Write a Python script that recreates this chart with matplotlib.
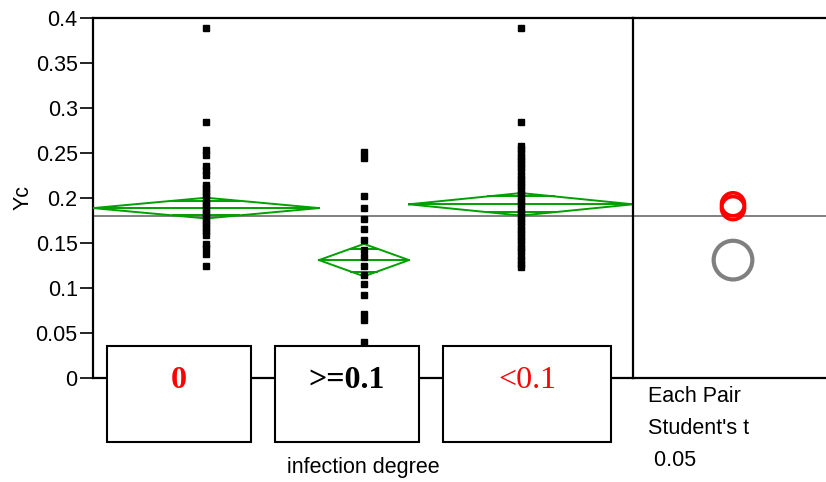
import numpy as np
import matplotlib
matplotlib.use("Agg")
import matplotlib.pyplot as plt
from matplotlib.patches import Rectangle, Circle

# ---------------- data ----------------
categories = ["0", ">=0.1", "<0.1"]
grp0 = [0.389, 0.284, 0.253, 0.248, 0.236, 0.231, 0.226, 0.215, 0.211, 0.207,
        0.203, 0.199, 0.195, 0.191, 0.187, 0.183, 0.179, 0.175, 0.171, 0.167,
        0.163, 0.159, 0.149, 0.144, 0.138, 0.125]
grp1 = [0.251, 0.245, 0.202, 0.189, 0.177, 0.166, 0.153, 0.142, 0.134, 0.124,
        0.114, 0.104, 0.092, 0.071, 0.064, 0.040]
grp2 = [0.389, 0.284, 0.258, 0.254, 0.250, 0.246, 0.242, 0.238, 0.234, 0.230,
        0.225, 0.221, 0.217, 0.213, 0.209, 0.205, 0.201, 0.197, 0.193, 0.189,
        0.185, 0.181, 0.177, 0.173, 0.169, 0.165, 0.161, 0.157, 0.153, 0.149,
        0.145, 0.141, 0.136, 0.131, 0.127, 0.123]
groups = [grp0, grp1, grp2]
group_means = [0.1888, 0.131, 0.1930]
group_ci = [0.0115, 0.018, 0.0125]
grand_mean = 0.1800
circle_radius = [0.0128, 0.0215, 0.0128]
circle_color = ["red", "#808080", "red"]
label_colors = ["red", "black", "red"]
label_weights = ["bold", "bold", "normal"]
yticks = [0, 0.05, 0.1, 0.15, 0.2, 0.25, 0.3, 0.35, 0.4]
ytick_labels = ["0", "0.05", "0.1", "0.15", "0.2", "0.25", "0.3", "0.35", "0.4"]
side_text = ["Each Pair", "Student's t", " 0.05"]

# ---------------- layout ----------------
W, H = 826, 482
fig = plt.figure(figsize=(W / 100, H / 100), dpi=100)
plt.rcParams['font.family'] = ['Liberation Sans', 'DejaVu Sans']

def fbox(x0, y0, x1, y1):
    return [x0 / W, 1 - y1 / H, (x1 - x0) / W, (y1 - y0) / H]

ax = fig.add_axes(fbox(93, 18, 633, 378))
axr = fig.add_axes(fbox(633, 18, 826, 378))

green = "#00A000"
lw_sp = 1.6
group_widths = [226, 90, 224]   # layout: horizontal space per group (px)
edges = np.concatenate([[0], np.cumsum(group_widths)])
ax.set_xlim(0, edges[-1])
ax.set_ylim(0, 0.4)

ax.axhline(grand_mean, color="#808080", lw=1.4, zorder=1)
for i, vals in enumerate(groups):
    l, r = edges[i], edges[i + 1]
    c = (l + r) / 2
    m, ci = group_means[i], group_ci[i]
    ax.plot([l, c, r, c, l], [m, m + ci, m, m - ci, m], color=green, lw=1.4, zorder=3)
    ax.plot([l, r], [m, m], color=green, lw=1.4, zorder=3)
    d = ci / np.sqrt(2)
    hw = (r - l) / 2 * (1 - 1 / np.sqrt(2))
    ax.plot([c - hw, c + hw], [m + d, m + d], color=green, lw=1.4, zorder=3)
    ax.plot([c - hw, c + hw], [m - d, m - d], color=green, lw=1.4, zorder=3)
    ax.plot([c] * len(vals), vals, ls="none", marker="s", ms=3.7, color="black",
            mec="black", zorder=4)

ax.set_yticks(yticks)
ax.set_yticklabels(ytick_labels, fontsize=15.5)
ax.set_xticks([])
ax.tick_params(axis="y", direction="out", length=9.5, width=1.2, pad=1.5)
for s in ["left", "top", "bottom"]:
    ax.spines[s].set_linewidth(lw_sp)
ax.spines["right"].set_visible(False)
ax.set_ylabel("Yc", fontsize=15.5, labelpad=1.5)

# comparison circles panel
axr.set_ylim(0, 0.4)
axr.set_xlim(0, (826 - 633) / 900)
axr.axhline(grand_mean, color="#808080", lw=1.4, zorder=1)
cx = 100 / 900
for i in [1, 2, 0]:
    lw = 3.0 if circle_color[i] != "red" else 2.6
    axr.add_patch(Circle((cx, group_means[i]), circle_radius[i], fill=False,
                         ec=circle_color[i], lw=lw, zorder=3))
axr.set_xticks([])
axr.set_yticks([])
for s in ["left", "top", "bottom"]:
    axr.spines[s].set_linewidth(lw_sp)
axr.spines["right"].set_visible(False)

# category boxes (below axis)
box_px = [(107, 251), (275, 419), (443, 611)]
for i, (x0, x1) in enumerate(box_px):
    fig.add_artist(Rectangle((x0 / W, 1 - 442 / H), (x1 - x0) / W, (442 - 346) / H,
                             transform=fig.transFigure, fc="white", ec="black",
                             lw=1.5, zorder=5))
    fig.text((x0 + x1) / 2 / W, 1 - 380 / H, categories[i], ha="center", va="center",
             fontsize=23, color=label_colors[i], fontweight=label_weights[i],
             family=["Liberation Serif", "DejaVu Serif"], zorder=6)

fig.text(363 / W, 1 - 468 / H, "infection degree", ha="center", va="center", fontsize=15.5)
for j, t in enumerate(side_text):
    fig.text(648 / W, 1 - (397 + 32 * j) / H, t, ha="left", va="center", fontsize=15.5)

fig.savefig("out.png", dpi=100)
